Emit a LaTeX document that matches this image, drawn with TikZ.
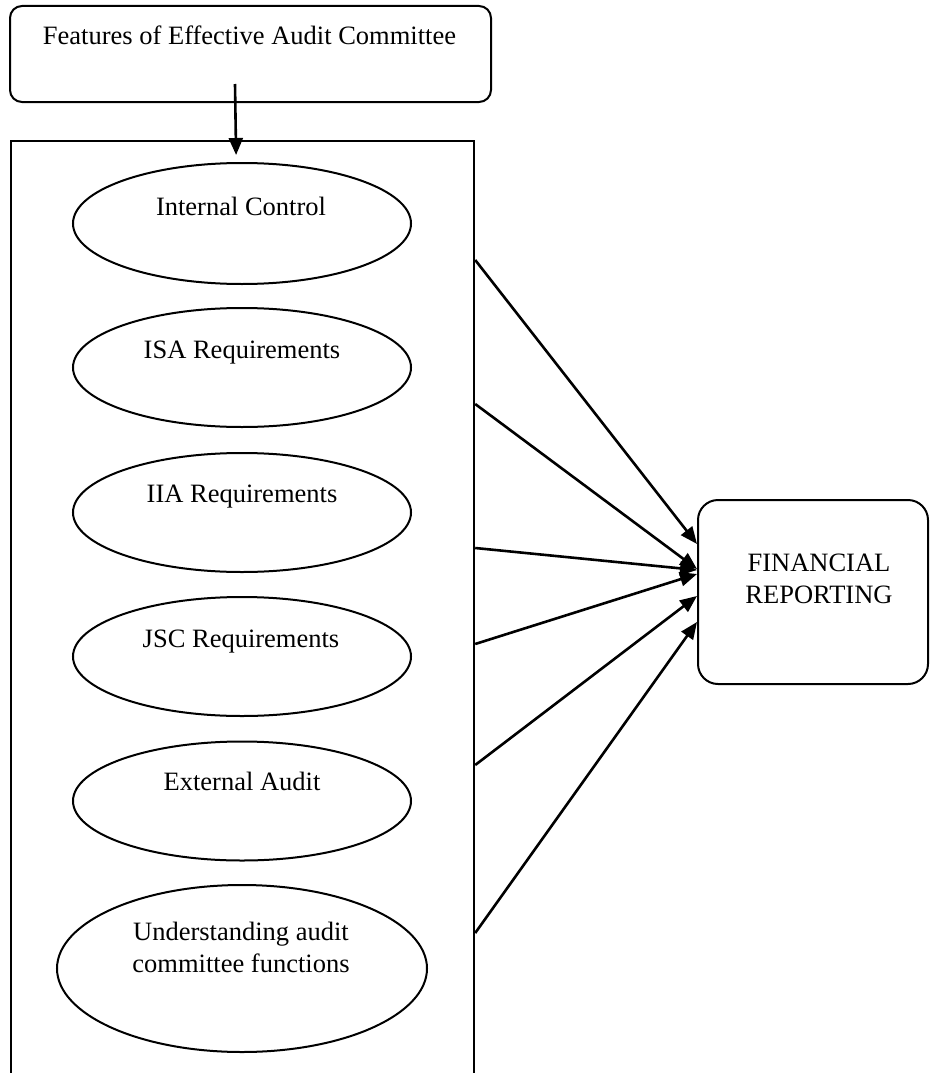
\documentclass[tikz,border=0pt]{standalone}
\usepackage{fontspec}
\setmainfont{Liberation Serif}
\usetikzlibrary{arrows.meta,shapes.geometric,calc}
\tikzset{
  txt/.style={font=\fontsize{26.5}{31.5}\selectfont,align=center,inner sep=0pt,anchor=base},
  roundbox/.style={rounded corners=12pt,draw,line width=2pt,inner sep=0pt},
  frame/.style={draw,line width=2.2pt,inner sep=0pt,anchor=north west},
  oval/.style={ellipse,draw,line width=2pt,inner sep=0pt,minimum width=338pt,minimum height=119pt},
  arr/.style={-{Triangle[length=17pt,width=14pt]},line width=2.6pt}
}

\begin{document}
\begin{tikzpicture}[x=1pt,y=-1pt]
\useasboundingbox (0,0) rectangle (930,1073);

\node[roundbox,minimum width=481pt,minimum height=96pt] (feat) at (250.5,54) {};
\node[txt] (feat-t) at (249.5,45) {Features of Effective Audit Committee};

\node[frame,minimum width=463pt,minimum height=960pt] (frame) at (10,140) {};

\node[oval,minimum height=121pt] (ic) at (242,223.5) {};
\node[txt] (ic-t) at (241,215) {Internal Control};
\node[oval] (isa) at (242,367.5) {};
\node[txt] (isa-t) at (242,358) {ISA Requirements};
\node[oval] (iia) at (242,512.5) {};
\node[txt] (iia-t) at (242,502) {IIA Requirements};
\node[oval] (jsc) at (242,656.5) {};
\node[txt] (jsc-t) at (241,647) {JSC Requirements};
\node[oval] (ea) at (242,801) {};
\node[txt] (ea-t) at (242,790) {External Audit};
\node[oval,minimum width=370pt,minimum height=167pt] (uacf) at (242,968.5) {};
\node[txt] (uacf-t) at (241,972) {Understanding audit\\committee functions};

\node[roundbox,rounded corners=20pt,minimum width=230pt,minimum height=184pt] (fin) at (813,592) {};
\node[txt] (fin-t) at (819,603) {FINANCIAL\\REPORTING};

\draw[arr] ([xshift=-15.5pt,yshift=19pt]feat.south) -- ([xshift=-6.5pt,yshift=-15pt]frame.north);
\foreach \a/\b in {120/45,264/70,408/71,504/75,625/97,793/123}
  \draw[arr] ([yshift=-\a pt]frame.north east) -- ([yshift=-\b pt]fin.north west);
\end{tikzpicture}
\end{document}
